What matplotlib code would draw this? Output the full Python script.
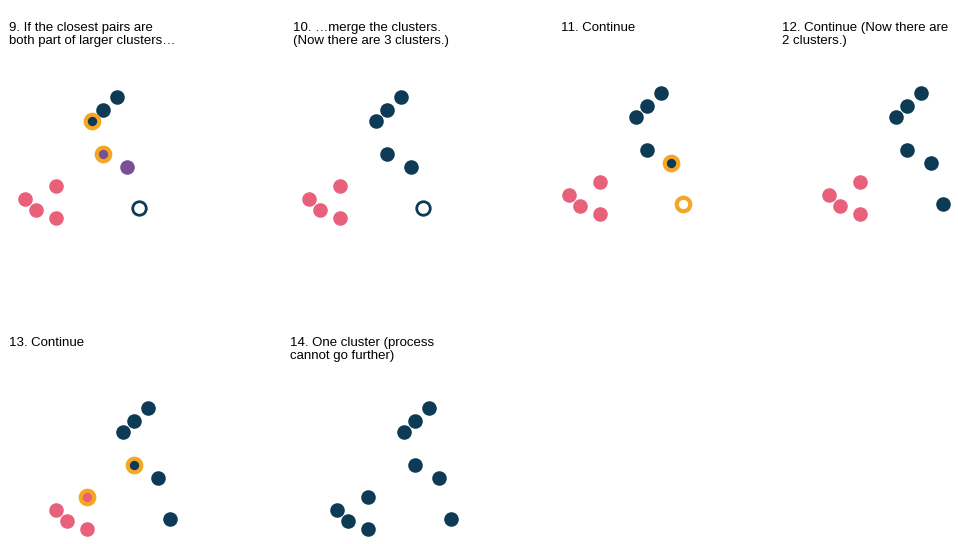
import matplotlib
matplotlib.use('Agg')
import matplotlib.pyplot as plt

plt.rcParams['font.family'] = ['Liberation Sans', 'DejaVu Sans']

# base point positions (panel-local pixels, y down)
px = [117, 103, 92, 103, 127, 139, 56, 25, 36, 56]
py = [97, 110, 121, 154, 167, 208, 186, 199, 210, 218]

titles = [
    "9. If the closest pairs are\nboth part of larger clusters…",
    "10. …merge the clusters.\n(Now there are 3 clusters.)",
    "11. Continue",
    "12. Continue (Now there are\n2 clusters.)",
    "13. Continue",
    "14. One cluster (process\ncannot go further)",
]

D, P, U, W = '#0d3b55', '#e8607a', '#7b4f96', 'white'
O = '#f5a623'
# per panel: (face, edge) for each point
styles = [
    [(D, D), (D, D), (D, O), (U, O), (U, U), (W, D), (P, P), (P, P), (P, P), (P, P)],
    [(D, D)] * 5 + [(W, D)] + [(P, P)] * 4,
    [(D, D)] * 4 + [(D, O), (W, O)] + [(P, P)] * 4,
    [(D, D)] * 6 + [(P, P)] * 4,
    [(D, D)] * 3 + [(D, O), (D, D), (D, D), (P, O)] + [(P, P)] * 3,
    [(D, D)] * 10,
]

# panel origin in figure pixels (x, y offset) and title x
origins = [(0, 0), (284, 0), (544, -4), (804, -4), (31, 311), (312, 311)]
title_pos = [(9, 22), (293, 22), (561, 22), (782, 22), (9, 337), (290, 337)]

W_PX, H_PX = 958, 544
fig = plt.figure(figsize=(W_PX / 100, H_PX / 100), dpi=100)

for i in range(6):
    ox, oy = origins[i]
    ax = fig.add_axes([ox / W_PX, 1 - (oy + 240) / H_PX, 240 / W_PX, 240 / H_PX])
    ax.set_xlim(0, 240)
    ax.set_ylim(240, 0)
    ax.axis('off')
    for j in range(len(px)):
        fc, ec = styles[i][j]
        ring = ec == O or fc == W
        ax.scatter(px[j], py[j], s=95 if ring else 110, c=fc, edgecolors=ec,
                   linewidths=3 if ec == O else (2 if fc == W else 0), zorder=3)
    tx, ty = title_pos[i]
    fig.text(tx / W_PX, 1 - ty / H_PX, titles[i], fontsize=9.5, va='top',
             ha='left', linespacing=1.15, color='black')

fig.savefig('out.png', dpi=100)
